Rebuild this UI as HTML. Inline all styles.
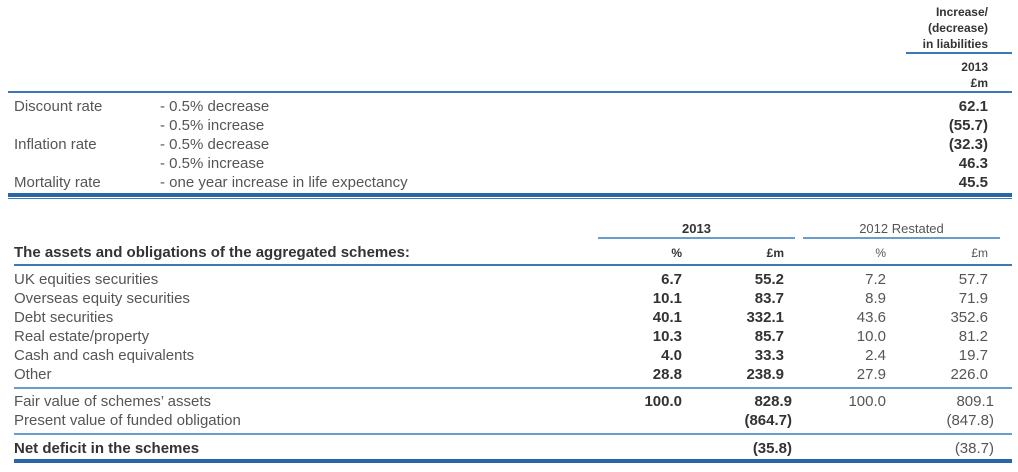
<!DOCTYPE html>
<html><head><meta charset="utf-8"><style>
body{margin:0;width:1018px;height:472px;background:#fff;position:relative;overflow:hidden;font-family:"Liberation Sans",sans-serif;color:#555;}
.t{position:absolute;white-space:nowrap;font-size:15px;line-height:19px;}
.r{text-align:right;}
.b{font-weight:bold;color:#333;}
.h{font-size:12px;line-height:16px;}
.l{position:absolute;background:#3a78b8;}
</style></head><body>
<div>
<div class="t h b r" style="right:30px;top:4px;">Increase/<br>(decrease)<br>in liabilities</div>
<div class="l" style="left:906px;width:106px;top:52px;height:2px;"></div>
<div class="t h b r" style="right:30px;top:59px;">2013<br>£m</div>
<div class="l" style="left:8px;width:1004px;top:91px;height:2px;"></div>
<div class="t" style="left:14px;top:97px;">Discount rate</div>
<div class="t" style="left:14px;top:135px;">Inflation rate</div>
<div class="t" style="left:14px;top:173px;">Mortality rate</div>
<div class="t" style="left:160px;top:97px;">- 0.5% decrease<br>- 0.5% increase<br>- 0.5% decrease<br>- 0.5% increase<br>- one year increase in life expectancy</div>
<div class="t b r" style="right:30px;top:97px;">62.1<br>(55.7)<br>(32.3)<br>46.3<br>45.5</div>
<div class="l" style="left:8px;width:1004px;top:193px;height:4px;background:#2a65a8;"></div>
<div class="l" style="left:8px;width:1004px;top:198px;height:1px;"></div>
</div>
<div>
<div class="t b h" style="left:598px;width:197px;text-align:center;top:221px;font-size:13px;">2013</div>
<div class="t h" style="left:803px;width:197px;text-align:center;top:221px;font-size:13px;">2012 Restated</div>
<div class="l" style="left:598px;width:197px;top:237px;height:2px;background:#6a9ccc;"></div>
<div class="l" style="left:803px;width:197px;top:237px;height:2px;background:#6a9ccc;"></div>
<div class="t b" style="left:14px;top:243px;">The assets and obligations of the aggregated schemes:</div>
<div class="t h b r" style="right:336px;top:245px;">%</div>
<div class="t h b r" style="right:234px;top:245px;">£m</div>
<div class="t h r" style="right:132px;top:245px;">%</div>
<div class="t h r" style="right:30px;top:245px;">£m</div>
<div class="l" style="left:14px;width:998px;top:264px;height:2px;"></div>
<div class="t" style="left:14px;top:270px;">UK equities securities<br>Overseas equity securities<br>Debt securities<br>Real estate/property<br>Cash and cash equivalents<br>Other</div>
<div class="t b r" style="right:336px;top:270px;">6.7<br>10.1<br>40.1<br>10.3<br>4.0<br>28.8</div>
<div class="t b r" style="right:234px;top:270px;">55.2<br>83.7<br>332.1<br>85.7<br>33.3<br>238.9</div>
<div class="t r" style="right:132px;top:270px;">7.2<br>8.9<br>43.6<br>10.0<br>2.4<br>27.9</div>
<div class="t r" style="right:30px;top:270px;">57.7<br>71.9<br>352.6<br>81.2<br>19.7<br>226.0</div>
<div class="l" style="left:14px;width:998px;top:387px;height:2px;background:#6a9ccc;"></div>
<div class="t" style="left:14px;top:392px;">Fair value of schemes’ assets<br>Present value of funded obligation</div>
<div class="t b r" style="right:336px;top:392px;">100.0</div>
<div class="t b r" style="right:226px;top:392px;">828.9<br>(864.7)</div>
<div class="t r" style="right:132px;top:392px;">100.0</div>
<div class="t r" style="right:24px;top:392px;">809.1<br>(847.8)</div>
<div class="l" style="left:14px;width:998px;top:433px;height:2px;background:#6a9ccc;"></div>
<div class="t b" style="left:14px;top:439px;">Net deficit in the schemes</div>
<div class="t b r" style="right:226px;top:439px;">(35.8)</div>
<div class="t r" style="right:24px;top:439px;">(38.7)</div>
<div class="l" style="left:14px;width:998px;top:459px;height:4px;background:#2a65a8;"></div>
</div>
</body></html>
